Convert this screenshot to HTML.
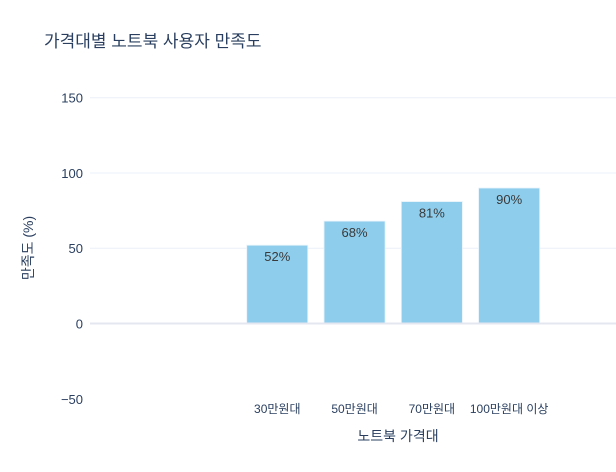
<!DOCTYPE html>
<html><head><meta charset="utf-8"><style>
body{margin:0;background:#fff;font-family:"Liberation Sans","Noto Sans CJK KR",sans-serif;}
svg text{font-family:"Liberation Sans","Noto Sans CJK KR",sans-serif;}
</style></head><body>
<svg id="chart" width="616" height="467" xmlns="http://www.w3.org/2000/svg">
<rect width="616" height="467" fill="#fff"/>
<text x="44" y="47" font-size="17" fill="#2a3f5f">가격대별 노트북 사용자 만족도</text>
<g id="grid"></g><g id="bars"></g><g id="ylabels"></g><g id="xlabels"></g>
<text x="398" y="441" font-size="14" text-anchor="middle" fill="#2a3f5f">노트북 가격대</text>
<text transform="translate(33,248) rotate(-90)" font-size="14" text-anchor="middle" fill="#2a3f5f">만족도 (%)</text>
</svg>
<script>
const categories=["30만원대","50만원대","70만원대","100만원대 이상"];
const values=[52,68,81,90];
const valueLabels=["52%","68%","81%","90%"];
const yTicks=[-50,0,50,100,150];
const NS="http://www.w3.org/2000/svg";
const y=v=>323.5-v*1.5053;
const step=77.3;
const x=i=>84+(i+2.5)*step;
const bw=61;
function mk(tag,attrs,parent,text){const e=document.createElementNS(NS,tag);for(const k in attrs)e.setAttribute(k,attrs[k]);if(text!==undefined)e.textContent=text;document.getElementById(parent).appendChild(e);return e;}
yTicks.forEach(t=>{
  if(t!==0&&t!==-50){const g=mk('line',{x1:90,x2:616,y1:y(t),y2:y(t),stroke:'#ebf0f8','stroke-width':1},'grid');
  
  }
  const l=mk('text',{x:83,y:y(t)+5,'font-size':13,'text-anchor':'end',fill:'#2a3f5f'},'ylabels',t<0?'\u2212'+Math.abs(t):String(t));
  
  
});
values.forEach((v,i)=>{
  const r=mk('rect',{x:x(i)-bw/2,y:y(v),width:bw,height:y(0)-y(v),fill:'#8ecdec',stroke:'#e6f2fa','stroke-width':0.8},'bars');
  
  
  const t=mk('text',{x:x(i),y:y(v)+16,'font-size':13,'text-anchor':'middle',fill:'#3a3a3a'},'bars',valueLabels[i]);
  
  
  const c=mk('text',{x:x(i),y:413,'font-size':12,'text-anchor':'middle',fill:'#2a3f5f'},'xlabels',categories[i]);
  
  
});
const z=mk('line',{x1:90,x2:616,y1:y(0),y2:y(0),stroke:'#e4e7f0','stroke-width':2},'bars');


</script>
</body></html>
